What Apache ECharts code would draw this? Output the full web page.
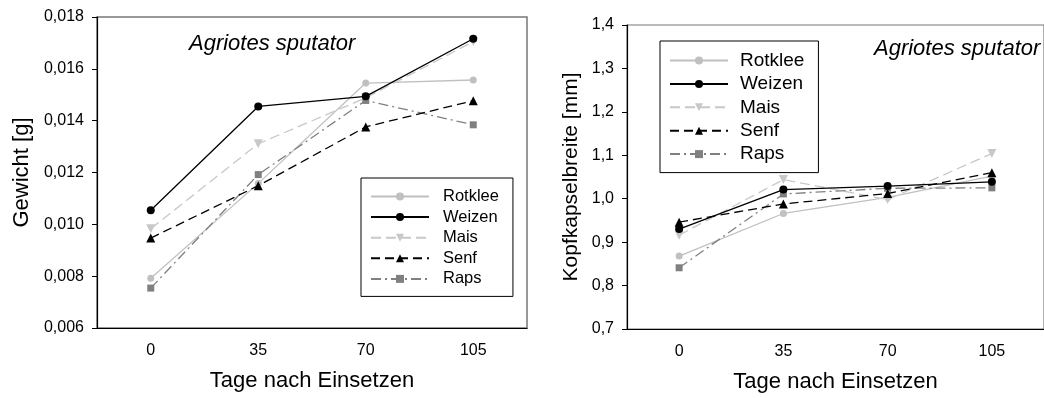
<!DOCTYPE html>
<html><head><meta charset="utf-8">
<script src="https://cdn.jsdelivr.net/npm/echarts@6/dist/echarts.min.js"></script>
<style>html,body{margin:0;padding:0;background:#fff}#c{width:1044px;height:398px}</style>
</head><body><div id="c"></div>
<script>
// ---- data ----
const days = ['0', '35', '70', '105'];
const seriesNames = ['Rotklee', 'Weizen', 'Mais', 'Senf', 'Raps'];
// Gewicht [g]
const gewRotklee = [0.00792, 0.01158, 0.01545, 0.01557];
const gewWeizen  = [0.01054, 0.01455, 0.01494, 0.01716];
const gewMais    = [0.00983, 0.01311, 0.01488, 0.01705];
const gewSenf    = [0.00947, 0.01149, 0.01376, 0.01477];
const gewRaps    = [0.00754, 0.01192, 0.01478, 0.01384];
// Kopfkapselbreite [mm]
const kkbRotklee = [0.868, 0.966, 1.003, 1.052];
const kkbWeizen  = [0.930, 1.021, 1.029, 1.039];
const kkbMais    = [0.916, 1.044, 0.998, 1.104];
const kkbSenf    = [0.946, 0.988, 1.012, 1.060];
const kkbRaps    = [0.841, 1.011, 1.024, 1.025];
// tick labels
const gewTickLabels = ['0,006', '0,008', '0,010', '0,012', '0,014', '0,016', '0,018'];
const kkbTickLabels = ['0,7', '0,8', '0,9', '1,0', '1,1', '1,2', '1,3', '1,4'];

// ---- styles ----
const styles = {
  Rotklee: { color: '#c0c0c0', symbol: 'circle', size: 7, dash: 'solid' },
  Weizen:  { color: '#000000', symbol: 'circle', size: 8, dash: 'solid' },
  Mais:    { color: '#c8c8c8', symbol: 'triangle', size: 9, rotate: 180, dash: [10, 5] },
  Senf:    { color: '#000000', symbol: 'triangle', size: 9, dash: [9, 5] },
  Raps:    { color: '#808080', symbol: 'rect', size: 7, dash: [10, 4, 2, 4] }
};
const gewData = { Rotklee: gewRotklee, Weizen: gewWeizen, Mais: gewMais, Senf: gewSenf, Raps: gewRaps };
const kkbData = { Rotklee: kkbRotklee, Weizen: kkbWeizen, Mais: kkbMais, Senf: kkbSenf, Raps: kkbRaps };

const FONT = 'Liberation Sans, Arial, sans-serif';

function mkSeries(name, data, idx) {
  const s = styles[name];
  return {
    name: name, type: 'line', xAxisIndex: idx, yAxisIndex: idx,
    data: data, symbol: s.symbol, symbolSize: s.size, symbolRotate: s.rotate || 0,
    showSymbol: true, animation: false,
    lineStyle: { color: s.color, width: 1.3, type: s.dash },
    itemStyle: { color: s.color, borderWidth: 0 },
    z: name === 'Weizen' || name === 'Senf' ? 3 : 2
  };
}

const series = [];
seriesNames.forEach(n => series.push(mkSeries(n, gewData[n], 0)));
seriesNames.forEach(n => series.push(mkSeries(n, kkbData[n], 1)));

function xAxis(gridIndex) {
  return {
    type: 'category', gridIndex: gridIndex, data: days, boundaryGap: true,
    name: 'Tage nach Einsetzen', nameLocation: 'middle', nameGap: 42,
    nameTextStyle: { fontFamily: FONT, fontSize: 22, color: '#000' },
    axisLine: { lineStyle: { color: '#000', width: 1.2 } },
    axisTick: { alignWithLabel: true, length: 5, lineStyle: { color: '#000' } },
    axisLabel: { fontFamily: FONT, fontSize: 16, color: '#000', margin: 15 },
    splitLine: { show: false }
  };
}
function yAxis(gridIndex, min, max, interval, labels, name, gap, fs) {
  return {
    type: 'value', gridIndex: gridIndex, min: min, max: max, interval: interval,
    name: name, nameLocation: 'middle', nameGap: gap,
    nameTextStyle: { fontFamily: FONT, fontSize: fs, color: '#000' },
    axisLine: { show: true, lineStyle: { color: '#000', width: 1.2 } },
    axisTick: { show: true, length: 5, lineStyle: { color: '#000' } },
    axisLabel: { fontFamily: FONT, fontSize: 16, color: '#000', margin: 13,
      formatter: v => labels[Math.round((v - min) / interval)] },
    splitLine: { show: false }
  };
}
function legend(left, top, padding, gap, textPad, fs) {
  return {
    orient: 'vertical', left: left, top: top, data: seriesNames,
    itemWidth: 58, itemHeight: 10, itemGap: gap, padding: padding,
    borderColor: '#000', borderWidth: 1, backgroundColor: '#fff',
    textStyle: { fontFamily: FONT, fontSize: fs, color: '#000', padding: [0, 0, 0, textPad] },
    selectedMode: false
  };
}

const chart = echarts.init(document.getElementById('c'), null, { renderer: 'canvas' });
chart.setOption({
  animation: false,
  backgroundColor: '#fff',
  grid: [
    { left: 97, top: 17, width: 430, height: 311, show: true, borderColor: '#777', borderWidth: 1.5, backgroundColor: 'transparent' },
    { left: 627, top: 25, width: 428, height: 305, show: true, borderColor: '#777', borderWidth: 1.2, backgroundColor: 'transparent' }
  ],
  xAxis: [xAxis(0), xAxis(1)],
  yAxis: [
    yAxis(0, 0.006, 0.018, 0.002, gewTickLabels, 'Gewicht [g]', 64, 22),
    yAxis(1, 0.7, 1.4, 0.1, kkbTickLabels, 'Kopfkapselbreite [mm]', 45, 21)
  ],
  legend: [
    legend(361, 178, [10, 14, 9, 9], 3.6, 9, 16.5),
    legend(660, 41, [10, 14, 9, 9], 4.4, 7, 19)
  ],
  title: [
    { text: 'Agriotes sputator', left: 189, top: 33, padding: 0,
      textStyle: { fontFamily: FONT, fontSize: 22, fontStyle: 'italic', fontWeight: 'normal', color: '#000' } },
    { text: 'Agriotes sputator', left: 874, top: 38, padding: 0,
      textStyle: { fontFamily: FONT, fontSize: 22, fontStyle: 'italic', fontWeight: 'normal', color: '#000' } }
  ],
  series: series
});
</script>
</body></html>
